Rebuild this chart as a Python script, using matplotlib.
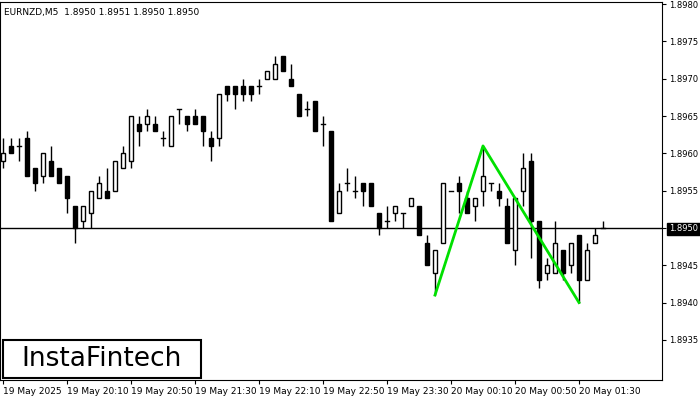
import matplotlib
matplotlib.use("Agg")
import matplotlib.pyplot as plt
from matplotlib.patches import Rectangle

opens  = [1.8959,1.8961,1.8961,1.8962,1.8958,1.8957,1.8959,1.8958,1.8957,1.8953,
          1.8951,1.8952,1.8954,1.8955,1.8955,1.8958,1.8959,1.8964,1.8964,1.8964,
          1.8962,1.8961,1.8966,1.8965,1.8965,1.8965,1.8962,1.8962,1.8969,1.8969,
          1.8969,1.8969,1.8969,1.8970,1.8970,1.8973,1.8970,1.8968,1.8966,1.8967,
          1.8964,1.8963,1.8952,1.8956,1.8955,1.8956,1.8956,1.8952,1.8951,1.8952,
          1.8952,1.8953,1.8953,1.8948,1.8944,1.8948,1.8955,1.8956,1.8954,1.8953,
          1.8955,1.8956,1.8955,1.8953,1.8947,1.8955,1.8959,1.8951,1.8944,1.8944,
          1.8947,1.8945,1.8949,1.8943,1.8948,1.8950]
highs  = [1.8962,1.8962,1.8962,1.8963,1.8958,1.8960,1.8961,1.8958,1.8957,1.8953,
          1.8953,1.8955,1.8957,1.8958,1.8959,1.8961,1.8965,1.8965,1.8966,1.8965,
          1.8963,1.8965,1.8966,1.8965,1.8966,1.8965,1.8963,1.8968,1.8969,1.8969,
          1.8970,1.8969,1.8970,1.8971,1.8973,1.8973,1.8972,1.8968,1.8967,1.8967,
          1.8965,1.8963,1.8956,1.8958,1.8957,1.8956,1.8956,1.8952,1.8953,1.8953,
          1.8952,1.8954,1.8953,1.8949,1.8947,1.8956,1.8955,1.8957,1.8955,1.8954,
          1.8961,1.8956,1.8956,1.8954,1.8954,1.8960,1.8960,1.8951,1.8946,1.8951,
          1.8947,1.8948,1.8949,1.8948,1.8950,1.8951]
lows   = [1.8958,1.8960,1.8959,1.8957,1.8955,1.8956,1.8957,1.8956,1.8952,1.8948,
          1.8950,1.8950,1.8954,1.8954,1.8955,1.8958,1.8958,1.8961,1.8963,1.8963,
          1.8961,1.8961,1.8964,1.8963,1.8964,1.8961,1.8959,1.8961,1.8967,1.8966,
          1.8967,1.8967,1.8968,1.8970,1.8970,1.8971,1.8969,1.8965,1.8965,1.8963,
          1.8961,1.8951,1.8952,1.8955,1.8954,1.8953,1.8953,1.8949,1.8950,1.8951,
          1.8950,1.8953,1.8949,1.8945,1.8941,1.8948,1.8955,1.8952,1.8952,1.8951,
          1.8953,1.8955,1.8953,1.8948,1.8945,1.8953,1.8946,1.8942,1.8943,1.8944,
          1.8943,1.8944,1.8940,1.8943,1.8948,1.8950]
closes = [1.8960,1.8960,1.8961,1.8957,1.8956,1.8960,1.8957,1.8956,1.8954,1.8950,
          1.8953,1.8955,1.8956,1.8954,1.8959,1.8960,1.8965,1.8963,1.8965,1.8963,
          1.8962,1.8965,1.8966,1.8964,1.8964,1.8963,1.8961,1.8968,1.8968,1.8968,
          1.8968,1.8968,1.8969,1.8971,1.8972,1.8971,1.8969,1.8965,1.8966,1.8963,
          1.8964,1.8951,1.8955,1.8956,1.8955,1.8955,1.8953,1.8950,1.8951,1.8953,
          1.8952,1.8954,1.8949,1.8945,1.8947,1.8956,1.8955,1.8955,1.8952,1.8954,
          1.8957,1.8956,1.8954,1.8948,1.8954,1.8958,1.8951,1.8943,1.8945,1.8948,
          1.8944,1.8948,1.8943,1.8947,1.8949,1.8950]

pattern_idx = [54, 60, 72]
pattern_px = [1.8941, 1.8961, 1.8940]

ytick_vals = [1.8935, 1.8940, 1.8945, 1.8950, 1.8955, 1.8960, 1.8965, 1.8970, 1.8975, 1.8980]
xtick_labels = ["19 May 2025", "19 May 20:10", "19 May 20:50", "19 May 21:30", "19 May 22:10",
                "19 May 22:50", "19 May 23:30", "20 May 00:10", "20 May 00:50", "20 May 01:30"]
current_price = 1.8950

fig = plt.figure(figsize=(7, 4), dpi=100)
ax = fig.add_axes([0.0, 0.05, 0.9457, 0.945])
ax.set_xlim(-0.375, 82.375)
ax.set_ylim(1.892962, 1.898029)

w = 0.6
for i, (o, h, l, c) in enumerate(zip(opens, highs, lows, closes)):
    ax.plot([i, i], [l, h], color="black", lw=1, solid_capstyle="butt", zorder=2)
    lo, hi = min(o, c), max(o, c)
    if c > o:
        ax.add_patch(Rectangle((i - w/2, lo), w, hi - lo, facecolor="white",
                               edgecolor="black", lw=1, zorder=3))
    elif c < o:
        ax.add_patch(Rectangle((i - w/2, lo), w, hi - lo, facecolor="black",
                               edgecolor="black", lw=1, zorder=3))
    else:
        ax.plot([i - w/2, i + w/2], [o, o], color="black", lw=1, zorder=3)

ax.axhline(current_price, color="black", lw=1, zorder=1)
ax.plot(pattern_idx, pattern_px, color="#00e000", lw=2, zorder=4)

ax.yaxis.tick_right()
ax.set_yticks(ytick_vals)
ax.set_yticklabels([f"{v:.4f}" for v in ytick_vals], fontsize=6)
ax.tick_params(axis="y", length=3, pad=2)
for lbl, v in zip(ax.get_yticklabels(), ytick_vals):
    if abs(v - current_price) < 1e-9:
        lbl.set_color("white")
        lbl.set_bbox(dict(facecolor="black", edgecolor="black", pad=1.2))
xt = list(range(0, 8 * len(xtick_labels), 8))
ax.set_xticks(xt)
ax.set_xticklabels(xtick_labels, fontsize=6.5, ha="left")
ax.tick_params(axis="x", length=3, pad=2)

ax.text(0.006, 0.985, "EURNZD,M5  1.8950 1.8951 1.8950 1.8950", transform=ax.transAxes,
        fontsize=6.5, va="top", ha="left")

fig.add_artist(Rectangle((3/700, 1 - 378/400), 198/700, 38/400, transform=fig.transFigure,
                         facecolor="white", edgecolor="black", lw=1.5, zorder=10))
fig.text(102/700, 1 - 359/400, "InstaFintech", fontsize=19, ha="center", va="center", zorder=11)

fig.savefig("out.png", dpi=100)
